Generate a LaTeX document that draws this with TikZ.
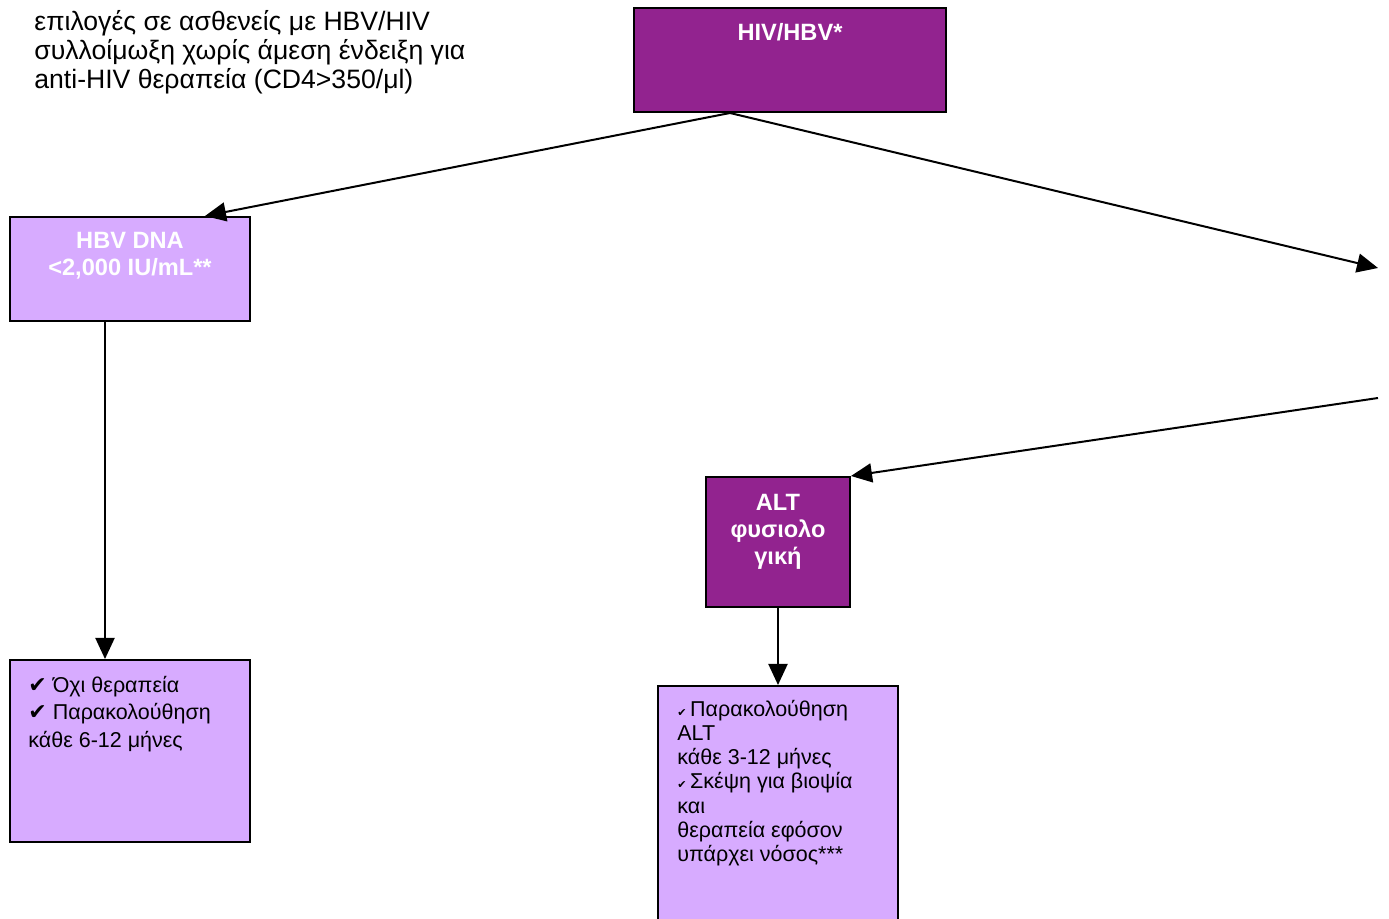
\documentclass[tikz,border=0pt]{standalone}
\usepackage{fontspec}
\setmainfont{Liberation Sans}
\newfontfamily\symfont{DejaVu Sans}
\usetikzlibrary{arrows.meta}
\definecolor{hivpurple}{RGB}{146,35,143}
\definecolor{hivlilac}{RGB}{215,171,255}
\tikzset{
  darkbox/.style={draw,line width=1pt,fill=hivpurple,inner sep=0pt},
  lightbox/.style={draw,line width=1pt,fill=hivlilac,inner sep=0pt},
  headtext/.style={anchor=base,text=white,align=center,inner sep=0pt,
    font=\fontsize{11.8}{13.5}\selectfont\bfseries},
  bodytext/.style={anchor=base west,align=left,inner sep=0pt,
    font=\fontsize{10.75}{14}\selectfont},
  conn/.style={line width=1pt,-{Triangle[length=10.5pt,width=9.5pt]}},
}
\newcommand{\bigtick}{{\symfont\fontsize{11}{11}\selectfont ✔}}
\newcommand{\smalltick}{{\symfont\fontsize{5.5}{5}\selectfont ✔}\,}

\begin{document}
\begin{tikzpicture}[x=0.5pt,y=-0.5pt]
\useasboundingbox (0,0) rectangle (1389,919);
\clip (0,0) rectangle (1389,919);
% note at top left
\node[anchor=base west,align=left,inner sep=0pt,
  font=\fontsize{13.3}{14.5}\selectfont] (note) at (34,89)
  {επιλογές σε ασθενείς με HBV/HIV\\
   συλλοίμωξη χωρίς άμεση ένδειξη για\\
   anti-HIV θεραπεία (CD4>350/μl)};

% boxes
\node[darkbox,minimum width=156pt,minimum height=52pt,
  label={[headtext,yshift=-17pt]north:HIV/HBV*}] (hiv) at (790,60) {};
\node[lightbox,minimum width=120pt,minimum height=52pt,
  label={[headtext,yshift=-30pt]north:HBV DNA\\<2,000 IU/mL**}] (hbv) at (130,269) {};
\node[lightbox,minimum width=120pt,minimum height=91pt,
  label={[bodytext,xshift=9.5pt,yshift=-44.5pt]north west:\bigtick\ Όχι θεραπεία\\
    \bigtick\ Παρακολούθηση\\κάθε 6-12 μήνες}] (watch) at (130,751) {};
\node[darkbox,minimum width=72pt,minimum height=65pt,
  label={[headtext,yshift=-44.5pt]north:ALT\\φυσιολο\\γική}] (alt) at (778,542) {};
\node[lightbox,minimum width=120pt,minimum height=130pt,
  label={[bodytext,font=\fontsize{10.75}{12.15}\selectfont,xshift=10pt,yshift=-88.4pt]north west:%
    \smalltick Παρακολούθηση\\ALT\\κάθε 3-12 μήνες\\
    \smalltick Σκέψη για βιοψία\\και\\θεραπεία εφόσον\\υπάρχει νόσος***}] (follow) at (778,816) {};

% loose ends at the right edge
\coordinate (rin) at (1378,268);
\coordinate (rout) at (1378,398);

% connectors
\draw[conn] ([xshift=-30pt]hiv.south) -- ([xshift=37.5pt]hbv.north);
\draw[conn] ([xshift=-30pt]hiv.south) -- (rin);
\draw[conn] ([xshift=-12.5pt]hbv.south) -- ([xshift=-12.5pt]watch.north);
\draw[conn] (rout) -- (alt.north east);
\draw[conn] (alt.south) -- (follow.north);
\end{tikzpicture}
\end{document}
